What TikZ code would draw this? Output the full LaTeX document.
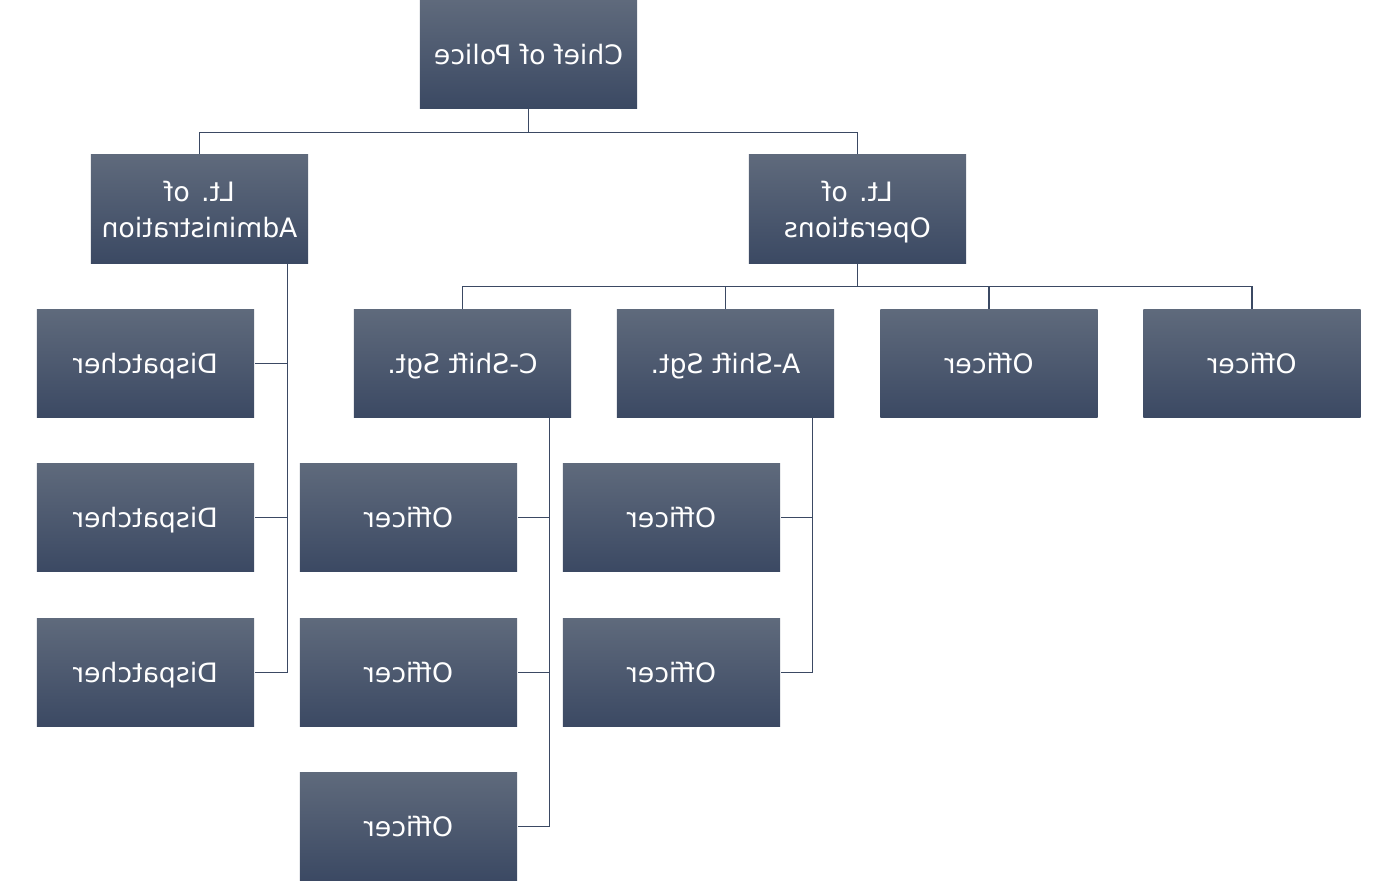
\documentclass[tikz,border=0pt]{standalone}
\usepackage{graphicx}
\usepackage{fontspec}
\setmainfont{DejaVu Sans}
\usetikzlibrary{calc}

\definecolor{boxtop}{RGB}{95,106,124}
\definecolor{boxbot}{RGB}{59,73,99}
\definecolor{wire}{RGB}{59,73,99}

% mirrored label, one or two lines
\newcommand{\mirr}[1]{\raisebox{-0.9pt}[\height][\depth]{\reflectbox{\begin{tabular}{@{}c@{}}#1\end{tabular}}}}

\tikzset{
  rankbox/.style={rectangle,top color=boxtop,bottom color=boxbot,
    minimum width=2.17cm,minimum height=1.08cm,inner sep=0pt,
    text=white,font=\fontsize{7.6}{10.2}\selectfont},
  link/.style={draw=wire,line width=0.35pt}
}

\begin{document}
\begin{tikzpicture}[x=0.01cm,y=-0.01cm]
  \useasboundingbox (0,0) rectangle (1397,881);

  \node[rankbox] (chief) at (528.5,54) {\mirr{Chief of Police}};
  \node[rankbox] (ltadm) at (199.5,209) {\mirr{Lt. of\\Administration}};
  \node[rankbox] (ltops) at (857.5,209) {\mirr{Lt. of\\Operations}};

  % third row
  \node[rankbox] (dispa) at (145.5,363.5) {\mirr{Dispatcher}};
  \node[rankbox] (csgt)  at (462.5,363.5) {\mirr{C-Shift Sgt.}};
  \node[rankbox] (asgt)  at (725.5,363.5) {\mirr{A-Shift Sgt.}};
  \node[rankbox] (offa)  at (989,363.5)   {\mirr{Officer}};
  \node[rankbox] (offb)  at (1252,363.5)  {\mirr{Officer}};

  \node[rankbox] (dispb) at (145.5,517.5) {\mirr{Dispatcher}};
  \node[rankbox] (dispc) at (145.5,672.5) {\mirr{Dispatcher}};

  \node[rankbox] (offc) at (408.5,517.5) {\mirr{Officer}};
  \node[rankbox] (offd) at (408.5,672.5) {\mirr{Officer}};
  \node[rankbox] (offe) at (408.5,826.5) {\mirr{Officer}};

  \node[rankbox] (offf) at (671.5,517.5) {\mirr{Officer}};
  \node[rankbox] (offg) at (671.5,672.5) {\mirr{Officer}};

  % chief to lieutenants
  \draw[link] (chief.south) -- ++(0,24) -| (ltadm.north);
  \draw[link] (chief.south) -- ++(0,24) -| (ltops.north);

  % operations
  \foreach \n in {csgt,asgt,offa,offb}
    \draw[link] (ltops.south) -- ++(0,23) -| (\n.north);

  % side buses
  \coordinate (admbus) at ($(ltadm.south east)+(-21,0)$);
  \coordinate (cbus) at ($(csgt.south east)+(-22,0)$);
  \coordinate (abus) at ($(asgt.south east)+(-22,0)$);
  \foreach \n in {dispa,dispb,dispc}
    \draw[link] (admbus) |- (\n.east);
  \foreach \n in {offc,offd,offe}
    \draw[link] (cbus) |- (\n.east);
  \foreach \n in {offf,offg}
    \draw[link] (abus) |- (\n.east);
\end{tikzpicture}
\end{document}
